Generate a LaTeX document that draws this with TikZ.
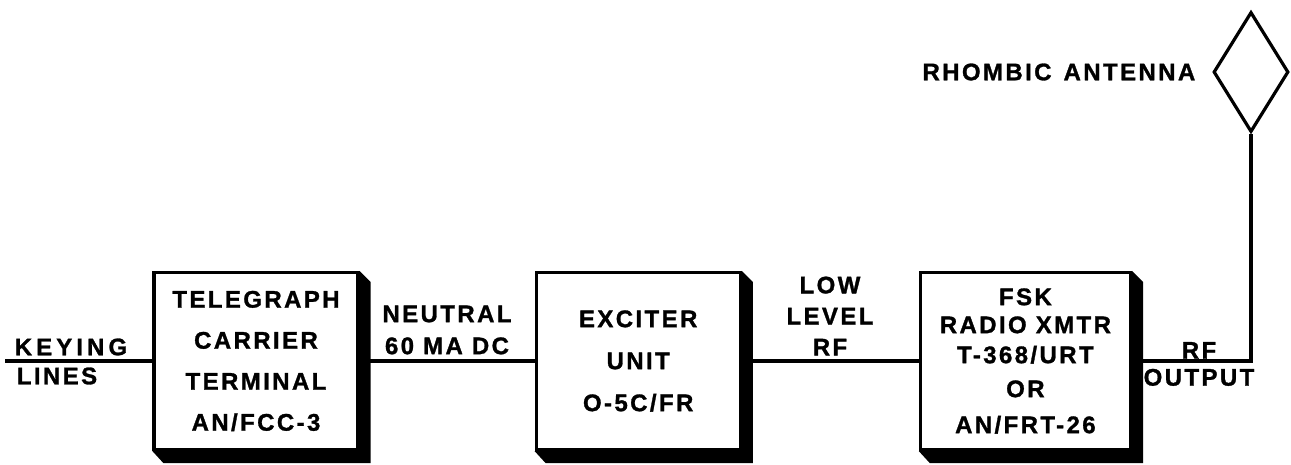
\documentclass[tikz,border=0pt]{standalone}
\usepackage{fontspec}
\newfontfamily\lettering{Liberation Sans}[LetterSpace=10,BoldFeatures={FakeBold=1.2}]
\newfontfamily\wideletter{Liberation Sans}[LetterSpace=17,BoldFeatures={FakeBold=1.2}]
\usetikzlibrary{positioning,shapes.geometric}

\begin{document}
\begin{tikzpicture}[
  x=1pt,y=-1pt,
  node distance=175pt,
  line width=3.2pt,
  every node/.style={font=\lettering\bfseries\fontsize{24}{27}\selectfont},
  box/.style={draw,fill=white,align=center,minimum width=204pt,minimum height=177pt,inner sep=0pt},
  lbl/.style={inner sep=0pt,align=center},
  rhomb/.style={draw,diamond,minimum width=75pt,minimum height=120pt,inner sep=0pt}
]
\useasboundingbox (0,0) rectangle (1291,464);
\node[box,font=\lettering\bfseries\fontsize{24}{41}\selectfont] (tct) at (256,361)
  {TELEGRAPH\\CARRIER\\TERMINAL\\AN/FCC-3};
\node[box,font=\lettering\bfseries\fontsize{24}{42}\selectfont,right=of tct] (exc)
  {EXCITER\\UNIT\\O-5C/FR};
\node[box,font=\lettering\bfseries\fontsize{24}{32}\selectfont,minimum width=210pt,right=177pt of exc] (xmtr)
  {FSK\\[-4pt]RADIO XMTR\\[-2pt]T-368/URT\\[2pt]OR\\[4pt]AN/FRT-26};
\node[rhomb] (ant) at (1251,72) {};
\coordinate (keyend) at (5,361);

\foreach \n in {tct,exc,xmtr}
  \fill (\n.north east) -- ++(11,11) -- ([shift={(11,12)}]\n.south east)
    -- ([shift={(11,12)}]\n.south west) -- (\n.south west) -- (\n.south east) -- cycle;

\draw (keyend) -- (tct);
\draw (tct) -- (exc);
\draw (exc) -- (xmtr);
\draw (xmtr.east) -| (ant.south);

\node[lbl,font=\wideletter\bfseries\fontsize{24}{27}\selectfont] (keying) at (71,347) {KEYING};
\node[lbl] (lines) at (57,376) {LINES};
\node[lbl,font=\lettering\bfseries\fontsize{24}{32}\selectfont] (neutral) at (447,330) {NEUTRAL\\60 MA DC};
\node[lbl,font=\lettering\bfseries\fontsize{24}{31}\selectfont] (lowrf) at (830,316) {LOW\\LEVEL\\RF};
\node[lbl] (rfout) at (1199,364) {RF\\OUTPUT};
\node[lbl,left=15pt of ant] (rhombic) {RHOMBIC\hspace{12pt}ANTENNA};
\end{tikzpicture}
\end{document}
